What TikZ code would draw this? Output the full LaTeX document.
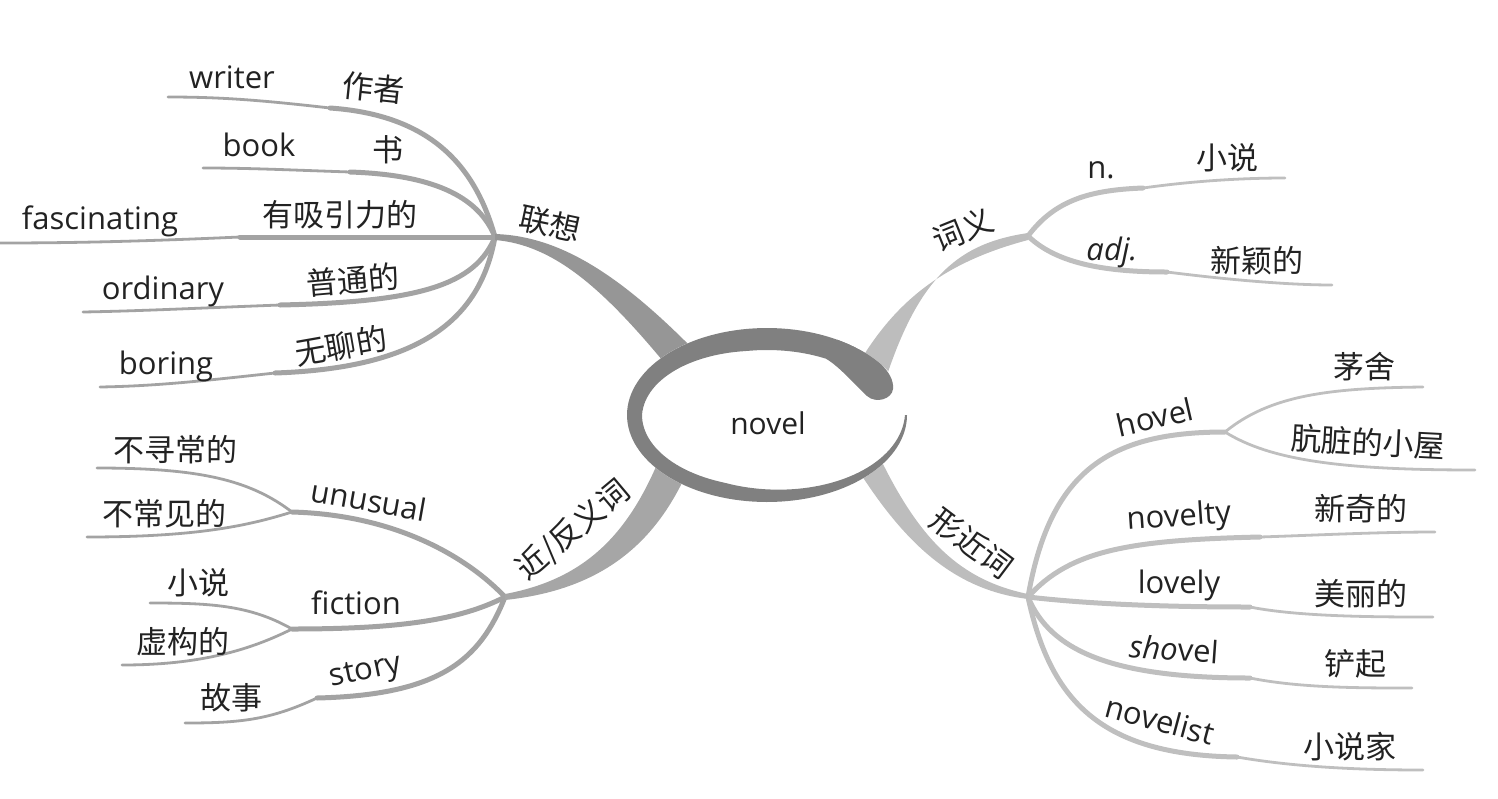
\documentclass[tikz,border=0pt]{standalone}
\usepackage{fontspec}
\setmainfont{Open Sans}
\newfontfamily\cjk{Noto Sans CJK SC}
\definecolor{ringc}{HTML}{808080}
\definecolor{tlc}{HTML}{969696}
\definecolor{blc}{HTML}{A6A6A6}
\definecolor{rc}{HTML}{BDBDBD}
\definecolor{lgray}{HTML}{A3A3A3}
\definecolor{rgray}{HTML}{BFBFBF}
\definecolor{txt}{HTML}{222222}
\begin{document}
\begin{tikzpicture}[x=0.5pt,y=-0.5pt,
  declare function={ww(\u)=22-7*min(max((\u-100)/80,0),1)-13*min(max((\u-250)/110,0),1);},
  en/.style={font=\fontsize{15.5}{18}\selectfont, inner sep=0pt, text=txt},
  zh/.style={font=\cjk\fontsize{15.5}{18}\selectfont, inner sep=0pt, text=txt},
  lth/.style={draw=lgray, line width=2.5pt, line cap=round},
  ltn/.style={draw=lgray, line width=1.4pt, line cap=round},
  rth/.style={draw=rgray, line width=2.5pt, line cap=round},
  rtn/.style={draw=rgray, line width=1.4pt, line cap=round}]
\useasboundingbox (0,0) rectangle (1498,798);

% junctions, knots and ends
\coordinate (J1) at (495,237);
\coordinate (J2) at (1028,236);
\coordinate (J3) at (505,597);
\coordinate (J4) at (1028,597);
\coordinate (kwri) at (330,108);  \coordinate (ewri) at (168,97);
\coordinate (kboo) at (350,172);  \coordinate (eboo) at (203,168);
\coordinate (kfas) at (240,237);  \coordinate (efas) at (0,243);
\coordinate (kord) at (280,305);  \coordinate (eord) at (83,312);
\coordinate (kbor) at (275,373);  \coordinate (ebor) at (100,387);
\coordinate (kn) at (1143,188);   \coordinate (en) at (1285,178);
\coordinate (kadj) at (1167,272); \coordinate (eadj) at (1332,285);
\coordinate (Sun) at (292,512);   \coordinate (eunA) at (97,468);  \coordinate (eunB) at (87,537);
\coordinate (Sfic) at (292,629);  \coordinate (eficA) at (150,603); \coordinate (eficB) at (122,665);
\coordinate (ksto) at (317,698);  \coordinate (esto) at (185,723);
\coordinate (Shov) at (1225,432); \coordinate (ehovA) at (1423,387); \coordinate (ehovB) at (1475,470);
\coordinate (knty) at (1260,537); \coordinate (enty) at (1435,532);
\coordinate (klov) at (1250,607); \coordinate (elov) at (1433,617);
\coordinate (ksho) at (1250,678); \coordinate (esho) at (1412,688);
\coordinate (knst) at (1237,757); \coordinate (enst) at (1423,770);

% left upper group
\draw[lth] (J1) .. controls (475,165) and (430,115) .. (kwri);
\draw[ltn] (kwri) .. controls (260,100) and (220,97) .. (ewri);
\draw[lth] (J1) .. controls (480,200) and (440,175) .. (kboo);
\draw[ltn] (kboo) .. controls (290,170) and (250,168) .. (eboo);
\draw[lth] (J1) -- (kfas);
\draw[ltn] (kfas) .. controls (150,241) and (80,243) .. (efas);
\draw[lth] (J1) .. controls (475,285) and (420,302) .. (kord);
\draw[ltn] (kord) .. controls (200,308) and (140,311) .. (eord);
\draw[lth] (J1) .. controls (480,320) and (420,368) .. (kbor);
\draw[ltn] (kbor) .. controls (210,380) and (160,386) .. (ebor);

% right upper group
\draw[rth] (J2) .. controls (1055,200) and (1090,190) .. (kn);
\draw[rtn] (kn) .. controls (1200,180) and (1250,178) .. (en);
\draw[rth] (J2) .. controls (1055,262) and (1100,272) .. (kadj);
\draw[rtn] (kadj) .. controls (1230,280) and (1290,285) .. (eadj);

% left lower group
\draw[lth] (J3) .. controls (470,560) and (400,515) .. (Sun);
\draw[ltn] (Sun) .. controls (250,480) and (200,468) .. (eunA);
\draw[ltn] (Sun) .. controls (250,525) and (200,537) .. (eunB);
\draw[lth] (J3) .. controls (460,620) and (400,629) .. (Sfic);
\draw[ltn] (Sfic) .. controls (250,605) and (210,603) .. (eficA);
\draw[ltn] (Sfic) .. controls (250,650) and (200,665) .. (eficB);
\draw[lth] (J3) .. controls (480,660) and (440,695) .. (ksto);
\draw[ltn] (ksto) .. controls (270,720) and (240,723) .. (esto);

% right lower group
\draw[rth] (J4) .. controls (1050,470) and (1110,432) .. (Shov);
\draw[rtn] (Shov) .. controls (1270,395) and (1330,388) .. (ehovA);
\draw[rtn] (Shov) .. controls (1270,460) and (1340,470) .. (ehovB);
\draw[rth] (J4) .. controls (1070,550) and (1130,540) .. (knty);
\draw[rtn] (knty) .. controls (1320,535) and (1380,532) .. (enty);
\draw[rth] (J4) .. controls (1080,603) and (1150,607) .. (klov);
\draw[rtn] (klov) .. controls (1300,617) and (1380,617) .. (elov);
\draw[rth] (J4) .. controls (1050,650) and (1110,678) .. (ksho);
\draw[rtn] (ksho) .. controls (1300,688) and (1360,688) .. (esho);
\draw[rth] (J4) .. controls (1050,700) and (1100,755) .. (knst);
\draw[rtn] (knst) .. controls (1300,768) and (1370,770) .. (enst);

% trunks
\fill[tlc] (495,234) .. controls (560,236) and (620,275) .. (694,350) -- (672,372) .. controls (605,290) and (555,245) .. (495,240) -- cycle;
\fill[rc] (1028,233) .. controls (960,243) and (920,275) .. (886,378) -- (856,368) .. controls (895,300) and (945,262) .. (1028,240) -- cycle;
\fill[blc] (505,594) .. controls (580,580) and (625,540) .. (658,462) -- (688,470) .. controls (655,545) and (600,590) .. (505,600) -- cycle;
\fill[rc] (880,458) .. controls (920,540) and (960,580) .. (1028,594) -- (1028,599) .. controls (955,590) and (905,545) .. (855,465) -- cycle;

% centre
\fill[white] (767,415) ellipse [x radius=70pt, y radius=43.5pt];
\fill[ringc] plot[domain=35:360, samples=120, variable=\s] ({767+140*cos(\s)}, {415-87*sin(\s)})
  -- plot[domain=35:360, samples=120, variable=\s] ({767+(140-ww(395-\s))*cos(395-\s)}, {415-(87-ww(395-\s))*sin(395-\s)}) -- cycle;
\fill[ringc] plot[domain=60:35, samples=20, variable=\s] ({767+140*cos(\s)}, {415-87*sin(\s)})
  .. controls (888,371) and (894,380) .. (893,389)
  .. controls (892,399) and (876,404) .. (867,396)
  .. controls (855,385) and (840,367) .. (826,358.7) -- cycle;
\node[en, font=\fontsize{15}{18}\selectfont] (novel) at (768,423) {novel};

% topic labels
\node[zh, rotate=-12] (lx) at (550,224) {联想};
\node[zh, rotate=22] (cy) at (963,230) {词义};
\node[zh, rotate=40] (jf) at (573,530) {近/反义词};
\node[zh, rotate=-37] (xj) at (972,543) {形近词};

% left upper texts
\node[en] (writer) at (232,77) {writer};
\node[zh, rotate=-6] (zuozhe) at (374,88) {作者};
\node[en] (book) at (259,145) {book};
\node[zh] (shu) at (388,150) {书};
\node[en] (fasc) at (100,221) {fascinating};
\node[zh] (youxi) at (340,215) {有吸引力的};
\node[en] (ord) at (163,291) {ordinary};
\node[zh, rotate=5] (putong) at (353,280) {普通的};
\node[en] (boring) at (166,366) {boring};
\node[zh, rotate=10] (wuliao) at (341,346) {无聊的};

% right upper texts
\node[en] (n) at (1101,170) {n.};
\node[zh] (xs1) at (1227,158) {小说};
\node[en] (adj) at (1112,252) {\itshape adj.};
\node[zh] (xinying) at (1257,261) {新颖的};

% left lower texts
\node[zh] (bxc) at (175,450) {不寻常的};
\node[en, rotate=-10] (unusual) at (369,500) {unusual};
\node[zh] (bcj) at (164,514) {不常见的};
\node[zh] (xs2) at (198,583) {小说};
\node[en] (fiction) at (356,603) {fiction};
\node[zh] (xugou) at (183,642) {虚构的};
\node[en, rotate=12] (story) at (366,673) {story};
\node[zh] (gushi) at (231,698) {故事};

% right lower texts
\node[zh] (maoshe) at (1364,367) {茅舍};
\node[en, rotate=13] (hovel) at (1155,417) {hovel};
\node[zh, rotate=-3] (angzang) at (1368,442) {肮脏的小屋};
\node[en, rotate=4] (novelty) at (1179,518) {novelty};
\node[zh] (xinqi) at (1361,509) {新奇的};
\node[en] (lovely) at (1179,585) {lovely};
\node[zh] (meili) at (1361,594) {美丽的};
\node[en, rotate=-4] (shovel) at (1174,649) {{\itshape sho}vel};
\node[zh] (chanqi) at (1355,664) {铲起};
\node[en, rotate=-15] (novelist) at (1160,720) {novelist};
\node[zh] (xsj) at (1350,747) {小说家};
\end{tikzpicture}
\end{document}
